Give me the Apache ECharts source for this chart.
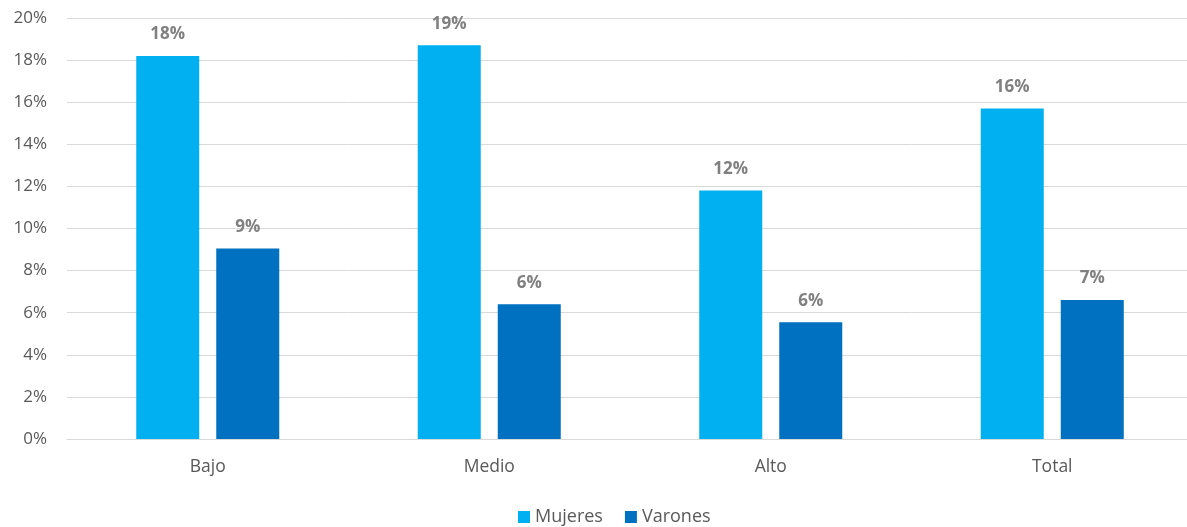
<!DOCTYPE html>
<html>
<head>
<meta charset="utf-8">
<style>
  html, body { margin: 0; padding: 0; background: #ffffff; overflow: hidden; }
  /* canvas is a little wider than the page so the plot area runs past the right edge */
  #chart { width: 1193px; height: 527px; }
</style>
<script src="https://cdn.jsdelivr.net/npm/echarts@6/dist/echarts.min.js"></script>
</head>
<body>
<div id="chart"></div>
<script>
// Niveles socioeconómicos y totales
const categories = ['Bajo', 'Medio', 'Alto', 'Total'];
// Porcentajes por sexo (en %)
const mujeres = [18.2, 18.7, 11.8, 15.7];
const varones = [9.05, 6.4, 5.55, 6.6];
const seriesNames = ['Mujeres', 'Varones'];

const FONT = '"Open Sans", "Liberation Sans", sans-serif';

const labelStyle = {
  show: true,
  position: 'top',
  distance: 13,
  color: '#808080',
  fontSize: 17,
  fontWeight: 'bold',
  fontFamily: FONT,
  formatter: p => Math.round(p.value) + '%'
};

const chart = echarts.init(document.getElementById('chart'));
chart.setOption({
  animation: false,
  backgroundColor: '#ffffff',
  grid: { left: 67, right: 0, top: 18, bottom: 88, containLabel: false },
  legend: {
    top: 503,
    left: 513,
    itemWidth: 12,
    itemHeight: 12,
    itemGap: 22,
    icon: 'rect',
    textStyle: { color: '#595959', fontSize: 18, fontFamily: FONT }
  },
  xAxis: {
    type: 'category',
    data: categories,
    axisLine: { lineStyle: { color: '#d9d9d9', width: 1 } },
    axisTick: { show: false },
    axisLabel: { color: '#595959', fontSize: 17.5, fontFamily: FONT, margin: 19 }
  },
  yAxis: {
    type: 'value',
    min: 0,
    max: 20,
    interval: 2,
    axisLine: { show: false },
    axisTick: { show: false },
    axisLabel: { color: '#595959', fontSize: 17, fontFamily: FONT, margin: 20, formatter: v => v + '%' },
    splitLine: { lineStyle: { color: '#d9d9d9', width: 1 } }
  },
  series: [
    {
      name: seriesNames[0],
      type: 'bar',
      data: mujeres,
      barWidth: 63,
      barGap: '27%',
      itemStyle: { color: '#00b0f0' },
      label: labelStyle
    },
    {
      name: seriesNames[1],
      type: 'bar',
      data: varones,
      barWidth: 63,
      barGap: '27%',
      itemStyle: { color: '#0070c0' },
      label: labelStyle
    }
  ]
});
</script>
</body>
</html>
